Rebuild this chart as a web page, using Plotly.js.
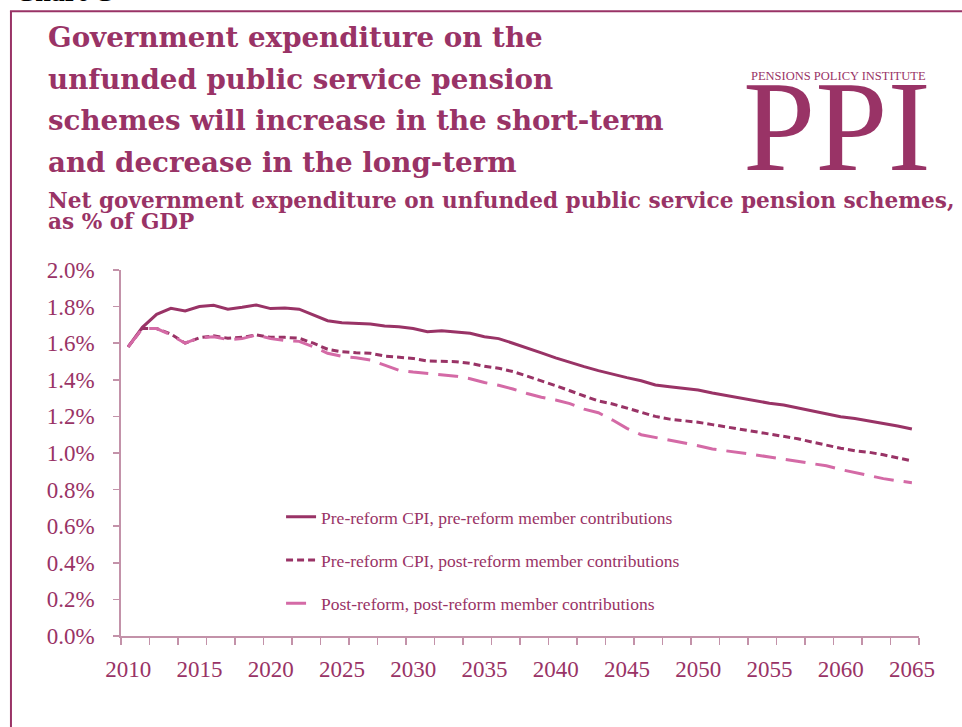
<!DOCTYPE html>
<html>
<head>
<meta charset="utf-8">
<script src="https://cdn.plot.ly/plotly-3.0.1.min.js"></script>
<style>
html,body{margin:0;padding:0;background:#fff;}
#chart{width:962px;height:727px;}
</style>
</head>
<body>
<div id="chart"></div>
<script>
// ---- Data (% of GDP) ----
const years = [];
for (let y = 2010; y <= 2065; y++) years.push(y);

const preCpiPreContrib = [
  1.58, 1.687, 1.758, 1.791, 1.776, 1.800, 1.807, 1.786, 1.796, 1.809,
  1.789, 1.792, 1.786, 1.754, 1.723, 1.712, 1.709, 1.705, 1.694, 1.690,
  1.680, 1.663, 1.668, 1.663, 1.654, 1.635, 1.625, 1.600, 1.575, 1.547,
  1.520, 1.495, 1.472, 1.450, 1.430, 1.412, 1.395, 1.372, 1.362, 1.354,
  1.344, 1.328, 1.313, 1.298, 1.285, 1.272, 1.262, 1.245, 1.228, 1.213,
  1.198, 1.188, 1.176, 1.160, 1.148, 1.131
];

const preCpiPostContrib = [
  1.58, 1.680, 1.680, 1.650, 1.600, 1.630, 1.640, 1.627, 1.632, 1.645,
  1.632, 1.632, 1.627, 1.600, 1.567, 1.553, 1.548, 1.545, 1.530, 1.523,
  1.517, 1.503, 1.503, 1.499, 1.490, 1.474, 1.463, 1.445, 1.420, 1.395,
  1.368, 1.340, 1.310, 1.284, 1.268, 1.245, 1.220, 1.200, 1.185, 1.178,
  1.168, 1.155, 1.142, 1.130, 1.115, 1.102, 1.092, 1.078, 1.060, 1.042,
  1.026, 1.012, 1.004, 0.990, 0.974, 0.957
];

const postReformPostContrib = [
  1.58, 1.680, 1.680, 1.645, 1.600, 1.630, 1.635, 1.620, 1.625, 1.645,
  1.625, 1.615, 1.610, 1.580, 1.545, 1.528, 1.520, 1.508, 1.480, 1.452,
  1.442, 1.434, 1.424, 1.420, 1.406, 1.385, 1.370, 1.350, 1.325, 1.305,
  1.290, 1.270, 1.240, 1.220, 1.180, 1.135, 1.100, 1.085, 1.072, 1.055,
  1.040, 1.022, 1.012, 1.003, 0.990, 0.978, 0.966, 0.955, 0.944, 0.930,
  0.910, 0.893, 0.876, 0.860, 0.848, 0.838
];

const seriesNames = [
  'Pre-reform CPI, pre-reform member contributions',
  'Pre-reform CPI, post-reform member contributions',
  'Post-reform, post-reform member contributions'
];

const xTickVals = [2010, 2015, 2020, 2025, 2030, 2035, 2040, 2045, 2050, 2055, 2060, 2065];
const yTickVals = [0, 0.2, 0.4, 0.6, 0.8, 1.0, 1.2, 1.4, 1.6, 1.8, 2.0];
const yTickText = ['0.0%', '0.2%', '0.4%', '0.6%', '0.8%', '1.0%', '1.2%', '1.4%', '1.6%', '1.8%', '2.0%'];

const titleLines = [
  'Government expenditure on the',
  'unfunded public service pension',
  'schemes will increase in the short-term',
  'and decrease in the long-term'
];
const subtitle1 = 'Net government expenditure on unfunded public service pension schemes,';
const subtitle2 = 'as % of GDP';

// ---- Styling ----
const MAG = '#993366';
const PINK = '#d46aa6';
const AXIS = '#c392a9';
const FONT = 'Liberation Serif, Times New Roman, serif';
const HFONT = 'DejaVu Serif, serif';

// plot-area pixel geometry
const L = 121, R = 918.7, T = 269.7, B = 635.7;
const W = R - L, H = B - T;
const px = x => (x - L) / W;
const py = y => (B - y) / H;

const traces = [
  {x: years, y: preCpiPreContrib, name: seriesNames[0], mode: 'lines',
   line: {color: MAG, width: 3}, legendgroup: 'a'},
  {x: years, y: preCpiPostContrib, name: seriesNames[1], mode: 'lines',
   line: {color: MAG, width: 3, dash: '7px,4px'}, legendgroup: 'b'},
  {x: years, y: postReformPostContrib, name: seriesNames[2], mode: 'lines',
   line: {color: PINK, width: 3, dash: '20px,10px'}, legendgroup: 'c'}
];

const titleMid = [37, 79, 120.5, 162];
const annotations = titleLines.map((t, i) => ({
  text: t, xref: 'paper', yref: 'paper', x: px(46), y: py(titleMid[i]),
  xanchor: 'left', yanchor: 'middle', showarrow: false,
  font: {family: HFONT, size: 27.7, color: MAG, weight: 'bold'}
}));
annotations.push(
  {text: 'Chart C', xref: 'paper', yref: 'paper', x: px(13), y: py(-9), xanchor: 'left', yanchor: 'middle',
   showarrow: false, font: {family: FONT, size: 28, color: '#000', weight: 'bold'}},
  {text: subtitle1, xref: 'paper', yref: 'paper', x: px(46), y: py(200), xanchor: 'left', yanchor: 'middle',
   showarrow: false, font: {family: HFONT, size: 21.6, color: MAG, weight: 'bold'}},
  {text: subtitle2, xref: 'paper', yref: 'paper', x: px(46), y: py(221), xanchor: 'left', yanchor: 'middle',
   showarrow: false, font: {family: HFONT, size: 21.6, color: MAG, weight: 'bold'}},
  {text: 'PENSIONS POLICY INSTITUTE', xref: 'paper', yref: 'paper', x: px(838), y: py(75.5), xanchor: 'center', yanchor: 'middle',
   showarrow: false, font: {family: FONT, size: 12.5, color: MAG}},
  {text: 'PPI', xref: 'paper', yref: 'paper', x: px(837), y: py(125.5), xanchor: 'center', yanchor: 'middle',
   showarrow: false, font: {family: FONT, size: 130, color: MAG}}
);

const layout = {
  width: 962, height: 727,
  margin: {l: L, r: 962 - R, t: T, b: 727 - B, pad: 0},
  paper_bgcolor: '#fff', plot_bgcolor: '#fff',
  font: {family: FONT, color: MAG},
  showlegend: true,
  legend: {
    x: px(281), y: py(498.5), xanchor: 'left', yanchor: 'top',
    bgcolor: 'rgba(0,0,0,0)',
    font: {family: FONT, size: 17.5, color: MAG},
    traceorder: 'grouped', tracegroupgap: 17.5
  },
  xaxis: {
    range: [2009.5, 2065.5],
    showgrid: false, zeroline: false,
    showline: true, linecolor: AXIS, linewidth: 1.8,
    tickvals: xTickVals, ticks: '',
    tickfont: {family: FONT, size: 23, color: MAG},
    minor: {tick0: 2009.5, dtick: 2, ticks: 'outside', ticklen: 7, tickcolor: AXIS, tickwidth: 1.5, showgrid: false},
    ticklabelstandoff: 12,
    fixedrange: true
  },
  yaxis: {
    range: [0, 2.0],
    showgrid: false, zeroline: false,
    showline: true, linecolor: AXIS, linewidth: 1.8,
    tickvals: yTickVals, ticktext: yTickText,
    ticks: 'outside', ticklen: 6, tickcolor: AXIS, tickwidth: 1.5,
    tickfont: {family: FONT, size: 23, color: MAG},
    ticklabelstandoff: 14,
    fixedrange: true
  },
  shapes: [
    {type: 'line', xref: 'paper', yref: 'paper', x0: px(11), x1: px(11), y0: py(740), y1: py(11),
     line: {color: MAG, width: 2}},
    {type: 'line', xref: 'paper', yref: 'paper', x0: px(10), x1: px(975), y0: py(11), y1: py(11),
     line: {color: MAG, width: 2}}
  ],
  annotations: annotations
};

Plotly.newPlot('chart', traces, layout, {displayModeBar: false, staticPlot: true});
</script>
</body>
</html>
